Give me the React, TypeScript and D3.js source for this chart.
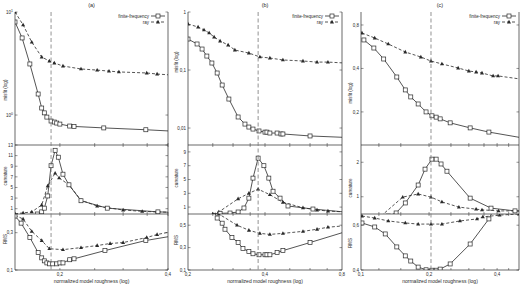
import React from 'react';
import * as d3 from 'd3';

type Pt = [number, number];

// ---------- DATA ----------
const panelTitles = ['(a)', '(b)', '(c)'];
const xDomains: [number, number][] = [[0.15, 0.4], [0.2, 0.8], [0.1, 0.5]];
const xTickLabels: number[][] = [[0.2, 0.4], [0.2, 0.4, 0.8], [0.1, 0.2, 0.4]];
const xMinorTicks: number[][] = [
  [0.2, 0.25, 0.3, 0.35, 0.4],
  [0.25, 0.3, 0.35, 0.4, 0.5, 0.6, 0.7],
  [0.12, 0.15, 0.2, 0.25, 0.3, 0.35, 0.4, 0.45],
];
const optimalRoughness = [0.189, 0.376, 0.204];

const misfitDomains: [number, number][] = [[0.512, 10], [0.0051, 1], [0.118, 0.984]];
const misfitTicks: number[][] = [[1, 10], [0.01, 0.1, 1], [0.2, 0.4, 0.8]];
const curvDomains: [number, number][] = [[0, 13], [0, 10], [0.5, 2.5]];
const curvTicks: number[][] = [[1, 3, 5, 7, 9, 11, 13], [1, 3, 5, 7, 9], [1, 2]];
const rmsDomains: [number, number][] = [[0.1, 0.4], [0.1, 0.6], [0.4, 0.65]];
const rmsTicks: number[][] = [[0.1, 0.3], [0.1, 0.3, 0.5], [0.4, 0.6]];

const legendLabels = ['finite-frequency', 'ray'];

// panel (a)
const aMisfitFF: Pt[] = [[0.150, 8.0], [0.157, 5.6], [0.165, 3.13], [0.174, 1.6], [0.178, 1.17], [0.181, 1.05], [0.184, 0.955], [0.189, 0.875], [0.193, 0.855], [0.196, 0.836], [0.200, 0.817], [0.213, 0.782], [0.219, 0.775], [0.265, 0.75], [0.347, 0.72], [0.42, 0.695]];
const aMisfitRay: Pt[] = [[0.150, 10], [0.158, 7.5], [0.167, 5.1], [0.178, 3.66], [0.187, 3.34], [0.193, 3.2], [0.204, 2.99], [0.229, 2.8], [0.254, 2.73], [0.274, 2.67], [0.292, 2.62], [0.349, 2.56], [0.373, 2.5], [0.42, 2.43]];
const aCurvFF: Pt[] = [[0.168, -0.5], [0.173, 0], [0.178, 0.4], [0.181, 1.1], [0.185, 3.4], [0.189, 9.1], [0.194, 12.0], [0.198, 10.7], [0.204, 7.5], [0.212, 5.5], [0.229, 2.5], [0.271, 1.1], [0.375, 0.4], [0.42, 0.3]];
const aCurvRay: Pt[] = [[0.150, 0.05], [0.158, 0.2], [0.167, 0.4], [0.178, 1.7], [0.185, 5.3], [0.194, 7.7], [0.199, 6.8], [0.212, 5.5], [0.229, 2.6], [0.254, 1.5], [0.300, 0.75], [0.339, 0.5], [0.373, 0.4], [0.42, 0.3]];
const aRmsFF: Pt[] = [[0.150, 0.389], [0.156, 0.351], [0.165, 0.274], [0.174, 0.193], [0.178, 0.165], [0.181, 0.149], [0.184, 0.138], [0.187, 0.133], [0.191, 0.133], [0.196, 0.133], [0.200, 0.138], [0.204, 0.138], [0.213, 0.155], [0.219, 0.16], [0.267, 0.204], [0.347, 0.258], [0.42, 0.285]];
const aRmsRay: Pt[] = [[0.150, 0.394], [0.158, 0.373], [0.167, 0.307], [0.178, 0.258], [0.187, 0.214], [0.204, 0.209], [0.229, 0.22], [0.254, 0.231], [0.276, 0.242], [0.300, 0.247], [0.349, 0.274], [0.373, 0.29], [0.42, 0.31]];

// panel (b)
const bMisfitFF: Pt[] = [[0.200, 0.342], [0.217, 0.281], [0.227, 0.230], [0.237, 0.174], [0.248, 0.132], [0.260, 0.0888], [0.272, 0.0551], [0.289, 0.0316], [0.314, 0.0155], [0.334, 0.0117], [0.346, 0.0104], [0.359, 0.0096], [0.379, 0.0089], [0.400, 0.0085], [0.407, 0.0085], [0.418, 0.0082], [0.446, 0.0082], [0.462, 0.0079], [0.470, 0.0079], [0.600, 0.0073], [0.82, 0.0069]];
const bMisfitRay: Pt[] = [[0.200, 0.621], [0.219, 0.551], [0.231, 0.49], [0.242, 0.435], [0.253, 0.371], [0.267, 0.316], [0.287, 0.27], [0.305, 0.221], [0.346, 0.196], [0.382, 0.168], [0.418, 0.161], [0.470, 0.149], [0.563, 0.143], [0.639, 0.137], [0.705, 0.137], [0.82, 0.132]];
const bCurvFF: Pt[] = [[0.26, -0.2], [0.267, 0.1], [0.292, 0.14], [0.314, 0.29], [0.331, 0.87], [0.346, 2.3], [0.359, 5.2], [0.376, 8.1], [0.396, 7.0], [0.414, 5.2], [0.430, 3.3], [0.458, 2.3], [0.492, 1.16], [0.616, 0.72], [0.82, 0.29]];
const bCurvRay: Pt[] = [[0.250, 0], [0.264, 0.3], [0.314, 2.2], [0.346, 3.0], [0.376, 3.6], [0.418, 2.8], [0.470, 1.7], [0.563, 0.9], [0.639, 0.58], [0.705, 0.43], [0.82, 0.3]];
const bRmsFF: Pt[] = [[0.250, 0.65], [0.260, 0.564], [0.272, 0.518], [0.279, 0.464], [0.297, 0.391], [0.314, 0.345], [0.328, 0.291], [0.346, 0.264], [0.359, 0.245], [0.379, 0.236], [0.400, 0.236], [0.407, 0.236], [0.418, 0.236], [0.446, 0.255], [0.470, 0.273], [0.600, 0.345], [0.82, 0.44]];
const bRmsRay: Pt[] = [[0.255, 0.65], [0.264, 0.6], [0.311, 0.5], [0.346, 0.455], [0.382, 0.427], [0.418, 0.418], [0.470, 0.427], [0.563, 0.445], [0.639, 0.464], [0.705, 0.482], [0.82, 0.495]];

// panel (c)
const cMisfitFF: Pt[] = [[0.103, 0.63], [0.114, 0.554], [0.126, 0.465], [0.144, 0.349], [0.157, 0.284], [0.166, 0.254], [0.179, 0.227], [0.194, 0.2], [0.206, 0.188], [0.215, 0.184], [0.224, 0.179], [0.248, 0.168], [0.304, 0.155], [0.368, 0.145], [0.52, 0.132]];
const cMisfitRay: Pt[] = [[0.101, 0.704], [0.115, 0.65], [0.132, 0.591], [0.157, 0.52], [0.184, 0.48], [0.204, 0.45], [0.228, 0.43], [0.269, 0.403], [0.300, 0.384], [0.323, 0.378], [0.343, 0.372], [0.384, 0.355], [0.404, 0.355], [0.52, 0.336]];
const cCurvFF: Pt[] = [[0.132, 0.44], [0.143, 0.53], [0.157, 0.82], [0.179, 1.34], [0.192, 1.80], [0.206, 2.09], [0.215, 2.09], [0.226, 1.95], [0.240, 1.74], [0.304, 0.96], [0.376, 0.67], [0.48, 0.59], [0.52, 0.58]];
const cCurvRay: Pt[] = [[0.1226, 0.44], [0.153, 0.99], [0.179, 1.08], [0.204, 0.99], [0.228, 0.85], [0.271, 0.70], [0.323, 0.64], [0.343, 0.62], [0.406, 0.59], [0.48, 0.59], [0.52, 0.59]];
const cRmsFF: Pt[] = [[0.101, 0.61], [0.115, 0.592], [0.128, 0.561], [0.144, 0.503], [0.157, 0.463], [0.166, 0.44], [0.179, 0.413], [0.194, 0.401], [0.206, 0.399], [0.215, 0.399], [0.224, 0.404], [0.248, 0.427], [0.304, 0.516], [0.368, 0.628], [0.39, 0.68]];
const cRmsRay: Pt[] = [[0.101, 0.641], [0.115, 0.632], [0.132, 0.619], [0.157, 0.61], [0.179, 0.605], [0.204, 0.605], [0.228, 0.605], [0.274, 0.619], [0.326, 0.628], [0.346, 0.637], [0.41, 0.645], [0.5, 0.65]];

const misfitSeries = [[aMisfitFF, aMisfitRay], [bMisfitFF, bMisfitRay], [cMisfitFF, cMisfitRay]];
const curvSeries = [[aCurvFF, aCurvRay], [bCurvFF, bCurvRay], [cCurvFF, cCurvRay]];
const rmsSeries = [[aRmsFF, aRmsRay], [bRmsFF, bRmsRay], [cRmsFF, cRmsRay]];

// ---------- LAYOUT ----------
const W = 520, H = 287;
const panelX: [number, number][] = [[15, 168], [188, 342], [361, 519]];
const rowY = { misfit: [145, 12], curv: [214, 145], rms: [270, 214] };
const ylabPos = [
  { x: 7, m: 90, c: 176, r: 239 },
  { x: 178, m: 62, c: 178, r: 240 },
  { x: 352, m: 93, c: 188, r: 243 },
];
const INK = '#2a2a2a';
const FONT = 'Liberation Sans, Arial, sans-serif';

const fmt = (v: number) => String(v).replace('.', ',');

function Square({ x, y }: { x: number; y: number }) {
  return <rect x={x - 2} y={y - 2} width={4} height={4} fill="white" stroke={INK} strokeWidth={0.7} />;
}
function Tri({ x, y }: { x: number; y: number }) {
  return <path d={`M${x},${y - 2.2}L${x + 2},${y + 1.4}L${x - 2},${y + 1.4}Z`} fill={INK} />;
}

function Series({ data, x, y, dashed, clipId }: any) {
  const line = d3.line<Pt>().x(d => x(d[0])).y(d => y(d[1]));
  return (
    <g clipPath={`url(#${clipId})`}>
      <path d={line(data) || ''} fill="none" stroke={INK} strokeWidth={0.8} strokeDasharray={dashed ? '3,2' : undefined} />
      {data.map((d: Pt, i: number) =>
        dashed ? <Tri key={i} x={x(d[0])} y={y(d[1])} /> : <Square key={i} x={x(d[0])} y={y(d[1])} />
      )}
    </g>
  );
}

function Panel({ p }: { p: number }) {
  const [x0, x1] = panelX[p];
  const x = d3.scaleLog().domain(xDomains[p]).range([x0, x1]);
  const rows = [
    { key: 'm', y: d3.scaleLog().domain(misfitDomains[p]).range(rowY.misfit), ticks: misfitTicks[p], series: misfitSeries[p], r: rowY.misfit },
    { key: 'c', y: d3.scaleLinear().domain(curvDomains[p]).range(rowY.curv), ticks: curvTicks[p], series: curvSeries[p], r: rowY.curv },
    { key: 'r', y: d3.scaleLinear().domain(rmsDomains[p]).range(rowY.rms), ticks: rmsTicks[p], series: rmsSeries[p], r: rowY.rms },
  ];
  const vx = x(optimalRoughness[p]);
  const lp = ylabPos[p];
  const misfitLabel = (v: number) => {
    if (p === 0) {
      const e = Math.round(Math.log10(v));
      return (<>
        <tspan>10</tspan><tspan dy={-2} fontSize={3.5}>{e}</tspan>
      </>);
    }
    return fmt(v);
  };
  return (
    <g>
      <text x={(x0 + x1) / 2} y={7} fontSize={5.5} textAnchor="middle" fill={INK}>{panelTitles[p]}</text>
      {rows.map((row, ri) => {
        const clipId = `clip-${p}-${ri}`;
        const [yb, yt] = row.r;
        return (
          <g key={row.key}>
            <defs>
              <clipPath id={clipId}><rect x={x0} y={yt} width={x1 - x0} height={yb - yt} /></clipPath>
            </defs>
            {xMinorTicks[p].map((t, i) => (
              <g key={i}>
                <line x1={x(t)} x2={x(t)} y1={yb} y2={yb - 2} stroke={INK} strokeWidth={0.5} />
                {ri > 0 && <line x1={x(t)} x2={x(t)} y1={yt} y2={yt + 2} stroke={INK} strokeWidth={0.5} />}
              </g>
            ))}
            {row.ticks.map((t, i) => (
              <g key={i}>
                <line x1={x0} x2={x0 + 2.5} y1={row.y(t)} y2={row.y(t)} stroke={INK} strokeWidth={0.5} />
                <line x1={x1} x2={x1 - 2.5} y1={row.y(t)} y2={row.y(t)} stroke={INK} strokeWidth={0.5} />
                <text x={x0 - 2} y={row.y(t) + 1.7} fontSize={4.5} textAnchor="end" fill={INK}>
                  {ri === 0 ? misfitLabel(t) : fmt(t)}
                </text>
              </g>
            ))}
            <Series data={row.series[1]} x={x} y={row.y} dashed clipId={clipId} />
            <Series data={row.series[0]} x={x} y={row.y} clipId={clipId} />
            <line x1={x0} x2={x0} y1={yt} y2={yb} stroke={INK} strokeWidth={0.7} />
            <line x1={x1} x2={x1} y1={yt} y2={yb} stroke={INK} strokeWidth={0.7} />
            <line x1={x0} x2={x1} y1={yb} y2={yb} stroke={INK} strokeWidth={0.7} />
          </g>
        );
      })}
      <line x1={vx} x2={vx} y1={12} y2={270} stroke="#777" strokeWidth={0.8} strokeDasharray="4,2.5" />
      {xTickLabels[p].map((t, i) => (
        <text key={i} x={x(t)} y={276} fontSize={4.5} textAnchor="middle" fill={INK}>{fmt(t)}</text>
      ))}
      <text x={(x0 + x1) / 2} y={283} fontSize={5} textAnchor="middle" fill={INK}>normalized model roughness (log)</text>
      <text transform={`translate(${lp.x},${lp.m}) rotate(-90)`} fontSize={4.5} textAnchor="middle" fill={INK}>misfit (log)</text>
      <text transform={`translate(${lp.x},${lp.c}) rotate(-90)`} fontSize={4.5} textAnchor="middle" fill={INK}>curvature</text>
      <text transform={`translate(${lp.x},${lp.r}) rotate(-90)`} fontSize={4.5} textAnchor="middle" fill={INK}>RMS</text>
      {legendLabels.map((lab, i) => {
        const lx = x1 - 17;
        const ly = 16 + i * 6;
        return (
          <g key={i}>
            <text x={lx - 2} y={ly + 1.6} fontSize={4.5} textAnchor="end" fill={INK}>{lab}</text>
            <line x1={lx} x2={lx + 14} y1={ly} y2={ly} stroke={INK} strokeWidth={0.8} strokeDasharray={i === 1 ? '3,2' : undefined} />
            {i === 0 ? <Square x={lx + 7} y={ly} /> : <Tri x={lx + 7} y={ly} />}
          </g>
        );
      })}
    </g>
  );
}

export default function App() {
  return (
    <svg width={W} height={H} style={{ position: 'absolute', left: 0, top: 0, background: 'white' }} fontFamily={FONT}>
      <rect width={W} height={H} fill="white" />
      {[0, 1, 2].map(p => <Panel key={p} p={p} />)}
    </svg>
  );
}
